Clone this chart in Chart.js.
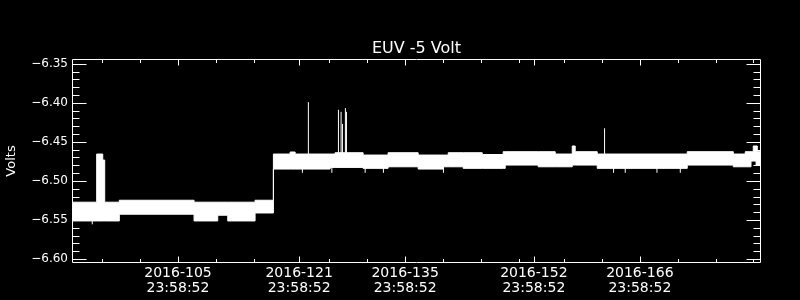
<!DOCTYPE html>
<html>
<head>
<meta charset="utf-8">
<script src="https://cdn.jsdelivr.net/npm/chart.js@4"></script>
<style>
  html, body { margin: 0; padding: 0; background: #000; }
  canvas { display: block; }
</style>
</head>
<body>
<canvas id="euvChart" width="800" height="300"></canvas>
<script>
// x is fractional day of year 2016 (92 = 1 Apr 00:00)
const chartTitle = 'EUV -5 Volt';
const yTitle = 'Volts';
const xMin = 92;
const xMax = 183;
const yMin = -6.605;
const yMax = -6.344;

const xTickDays = ['105', '121', '135', '152', '166'];
const xTickTime = '23:58:52';
const xTickValues = [105.9992, 121.9992, 135.9992, 152.9992, 166.9992];
const xMinorTicks = [96, 101, 106, 111, 116, 126, 131, 136, 141, 146, 151, 157, 162, 167, 172, 177, 182];
const yTickValues = [-6.35, -6.40, -6.45, -6.50, -6.55, -6.60];
const yMinorTicks = [-6.36, -6.37, -6.38, -6.39, -6.41, -6.42, -6.43, -6.44,
  -6.46, -6.47, -6.48, -6.49, -6.51, -6.52, -6.53, -6.54, -6.56, -6.57, -6.58, -6.59];

// envelope of the dense samples, each value holds until the next time
const bandT = [92.00, 95.26, 96.06, 96.32, 98.25, 108.12, 111.25, 112.57, 116.18,
  118.60, 120.81, 121.47, 126.09, 126.75, 130.45, 133.75, 137.72, 141.02, 141.69,
  143.67, 146.18, 148.95, 149.22, 153.58, 155.82, 158.07, 158.46, 161.37, 173.26,
  179.34, 180.92, 181.68, 181.98, 182.35, 182.51, 183.00];
const bandHigh = [-6.5272, -6.4656, -6.4733, -6.5272, -6.5247, -6.5272, -6.5272, -6.5272, -6.5247,
  -6.4656, -6.4630, -6.4656, -6.4656, -6.4639, -6.4669, -6.4639, -6.4669, -6.4669, -6.4639,
  -6.4639, -6.4662, -6.4626, -6.4626, -6.4626, -6.4656, -6.4553, -6.4626, -6.4656, -6.4626,
  -6.4656, -6.4626, -6.4626, -6.4553, -6.4553, -6.4626, -6.4626];
const bandLow = [-6.5512, -6.5512, -6.5512, -6.5512, -6.5426, -6.5512, -6.5439, -6.5512, -6.5410,
  -6.4848, -6.4848, -6.4848, -6.4827, -6.4827, -6.4839, -6.4819, -6.4848, -6.4819, -6.4819,
  -6.4839, -6.4839, -6.4839, -6.4797, -6.4819, -6.4819, -6.4797, -6.4797, -6.4839, -6.4797,
  -6.4819, -6.4819, -6.4746, -6.4746, -6.4797, -6.4797, -6.4797];

// single outliers
const spikeT = [123.22, 127.19, 127.54, 127.72, 128.11, 128.25, 162.34,
  94.68, 122.43, 126.32, 130.72, 133.13, 141.06, 163.53, 165.07, 169.26, 172.34];
const spikeLow = [-6.47, -6.47, -6.47, -6.47, -6.47, -6.47, -6.47,
  -6.5555, -6.4896, -6.4896, -6.4896, -6.4896, -6.4896, -6.4896, -6.4896, -6.4896, -6.4896];
const spikeHigh = [-6.3992, -6.4090, -6.4116, -6.4270, -6.4069, -6.4116, -6.4326,
  -6.545, -6.48, -6.48, -6.48, -6.48, -6.48, -6.48, -6.48, -6.48, -6.48];

const highPts = bandT.map((t, i) => ({ x: t, y: bandHigh[i] }));
const lowPts = bandT.map((t, i) => ({ x: t, y: bandLow[i] }));
const spikePts = [];
spikeT.forEach((t, i) => {
    spikePts.push({ x: t, y: spikeLow[i] }, { x: t, y: spikeHigh[i] }, { x: t, y: null });
});

// black page, IDL style box with inward ticks, title
const frameTicks = {
    id: 'frameTicks',
    beforeDraw(chart) {
        const ctx = chart.ctx;
        ctx.save();
        ctx.fillStyle = '#000';
        ctx.fillRect(0, 0, chart.width, chart.height);
        ctx.restore();
    },
    afterDraw(chart) {
        const { ctx, chartArea: a, scales } = chart;
        const L = Math.round(a.left) + 0.5, R = Math.round(a.right) - 0.5;
        const T = Math.round(a.top) + 0.5, B = Math.round(a.bottom) - 0.5;
        ctx.save();
        ctx.strokeStyle = '#fff';
        ctx.lineWidth = 1;
        ctx.beginPath();
        ctx.rect(L, T, R - L, B - T);
        const xTick = (v, len) => {
            const px = Math.round(scales.x.getPixelForValue(v)) + 0.5;
            ctx.moveTo(px, B); ctx.lineTo(px, B - len);
            ctx.moveTo(px, T); ctx.lineTo(px, T + len);
        };
        const yTick = (v, len) => {
            const py = Math.round(scales.y.getPixelForValue(v)) + 0.5;
            ctx.moveTo(L, py); ctx.lineTo(L + len, py);
            ctx.moveTo(R, py); ctx.lineTo(R - len, py);
        };
        xTickValues.forEach(v => xTick(v, 6));
        xMinorTicks.forEach(v => xTick(v, 3.5));
        yTickValues.forEach(v => yTick(v, 14));
        yMinorTicks.forEach(v => yTick(v, 7));
        ctx.stroke();
        ctx.fillStyle = '#fff';
        ctx.font = '16px "DejaVu Sans"';
        ctx.textAlign = 'center';
        ctx.textBaseline = 'alphabetic';
        ctx.fillText(chartTitle, (a.left + a.right) / 2, 53);
        ctx.restore();
    }
};

const ctx = document.getElementById('euvChart').getContext('2d');
const euvChart = new Chart(ctx, {
    type: 'line',
    data: {
        datasets: [{
            data: highPts,
            stepped: true,
            borderColor: '#fff',
            borderWidth: 1,
            backgroundColor: '#fff',
            fill: '+1',
            pointRadius: 0
        }, {
            data: lowPts,
            stepped: true,
            borderColor: '#fff',
            borderWidth: 1,
            fill: false,
            pointRadius: 0
        }, {
            data: spikePts,
            borderColor: '#fff',
            borderWidth: 1,
            fill: false,
            spanGaps: false,
            pointRadius: 0
        }]
    },
    options: {
        responsive: false,
        animation: false,
        layout: { padding: { top: 59, right: 39, bottom: 0, left: 0 } },
        plugins: {
            legend: { display: false },
            tooltip: { enabled: false }
        },
        scales: {
            x: {
                type: 'linear',
                min: xMin,
                max: xMax,
                grid: { display: false, drawTicks: false },
                border: { display: false },
                afterBuildTicks: scale => { scale.ticks = xTickValues.map(v => ({ value: v })); },
                afterFit: scale => { scale.height = 37; },
                ticks: {
                    autoSkip: false,
                    maxRotation: 0,
                    padding: 3,
                    color: '#fff',
                    font: { family: 'DejaVu Sans', size: 14, lineHeight: 1.05 },
                    callback: (v, i) => ['2016-' + xTickDays[i], xTickTime]
                }
            },
            y: {
                min: yMin,
                max: yMax,
                grid: { display: false, drawTicks: false },
                border: { display: false },
                afterBuildTicks: scale => { scale.ticks = yTickValues.map(v => ({ value: v })); },
                afterFit: scale => { scale.width = 72; },
                title: {
                    display: true,
                    text: yTitle,
                    color: '#fff',
                    font: { family: 'DejaVu Sans', size: 13 },
                    padding: { top: 4, bottom: 0 }
                },
                ticks: {
                    padding: 4,
                    color: '#fff',
                    font: { family: 'DejaVu Sans', size: 12 },
                    callback: v => '\u2212' + Math.abs(v).toFixed(2)
                }
            }
        }
    },
    plugins: [frameTicks]
});
</script>
</body>
</html>
